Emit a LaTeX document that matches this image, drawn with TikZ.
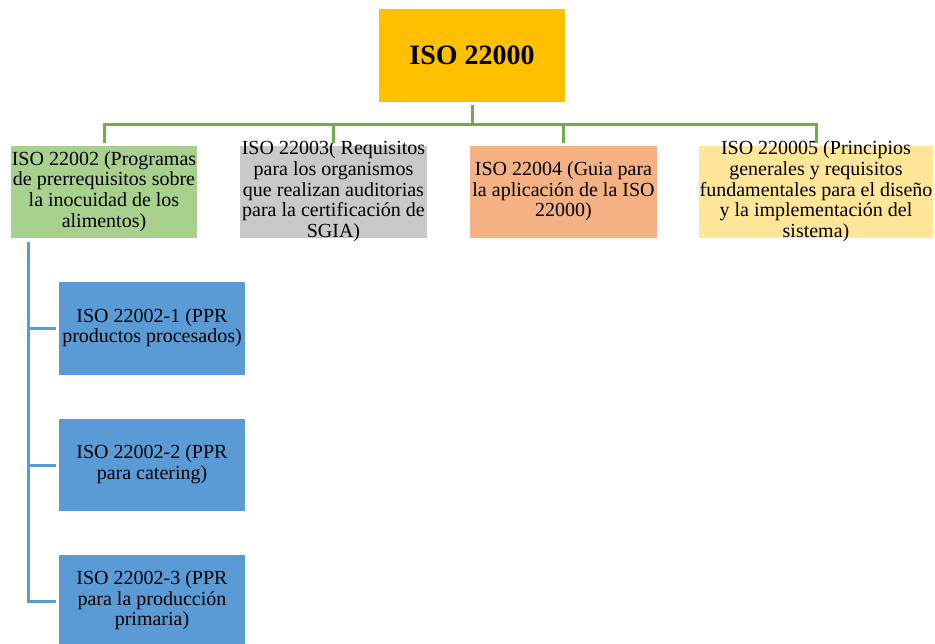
\documentclass[tikz,border=0pt]{standalone}
\usepackage{fontspec}
\setmainfont{Liberation Serif}
\usepackage{tikz}
\usetikzlibrary{positioning, calc}

\definecolor{rootc}{HTML}{FFC000}
\definecolor{greenc}{HTML}{A9D18E}
\definecolor{greyc}{HTML}{C9C9C9}
\definecolor{orangec}{HTML}{F4B183}
\definecolor{yellowc}{HTML}{FFE699}
\definecolor{bluec}{HTML}{5B9BD5}
\definecolor{glinec}{HTML}{70AD47}
\definecolor{blinec}{HTML}{5B9BD5}

% centred block of lines
\newcommand{\boxlines}[1]{\begin{tabular}{@{}c@{}}#1\end{tabular}}

\begin{document}
\begin{tikzpicture}[
    x=1pt, y=-1pt,
    box/.style={rectangle, inner sep=0pt, minimum width=186pt, minimum height=92pt},
    txt/.style={inner sep=0pt, font=\fontsize{20}{20.7}\selectfont},
    gline/.style={glinec, line width=3pt, shorten <=3pt, shorten >=3pt},
    bline/.style={blinec, line width=3pt, shorten >=3pt}
]
\useasboundingbox (0,0) rectangle (935,643);

% top level
\node[box, fill=rootc, minimum height=93pt,
      label={[txt, font=\fontsize{28}{30}\selectfont\bfseries]center:ISO 22000}] (root) at (472,55.5) {};

% second level
\node[box, fill=greenc,
      label={[txt]center:{\boxlines{ISO 22002 (Programas\\de prerrequisitos sobre\\la inocuidad de los\\alimentos)}}}] (iso2) at (104,192) {};
\node[box, fill=greyc, minimum width=187pt,
      label={[txt]center:{\boxlines{ISO 22003( Requisitos\\para los organismos\\que realizan auditorias\\para la certificación de\\SGIA)}}}] (iso3) at (333.5,192) {};
\node[box, fill=orangec, minimum width=187pt,
      label={[txt]center:{\boxlines{ISO 22004 (Guia para\\la aplicación de la ISO\\22000)}}}] (iso4) at (563.5,192) {};
\node[box, fill=yellowc, minimum width=234pt,
      label={[txt]center:{\boxlines{ISO 220005 (Principios\\generales y requisitos\\fundamentales para el diseño\\y la implementación del\\sistema)}}}] (iso5) at (816,192) {};

% third level
\node[box, fill=bluec, minimum height=93pt,
      label={[txt]center:{\boxlines{ISO 22002-1 (PPR\\productos procesados)}}}] (ppr1) at (152,328.5) {};
\node[box, fill=bluec,
      label={[txt]center:{\boxlines{ISO 22002-2 (PPR\\para catering)}}}] (ppr2) at (152,465) {};
\node[box, fill=bluec,
      label={[txt]center:{\boxlines{ISO 22002-3 (PPR\\para la producción\\primaria)}}}] (ppr3) at (152,601) {};

% connectors
\coordinate (bar) at (472,124);
\foreach \n in {iso2,iso3,iso4,iso5}
  \draw[gline] (root.south) -- (bar) -| (\n.north);

\coordinate (spine) at (28,242);
\foreach \n in {ppr1,ppr2,ppr3}
  \draw[bline] (spine) |- (\n.west);
\end{tikzpicture}
\end{document}
